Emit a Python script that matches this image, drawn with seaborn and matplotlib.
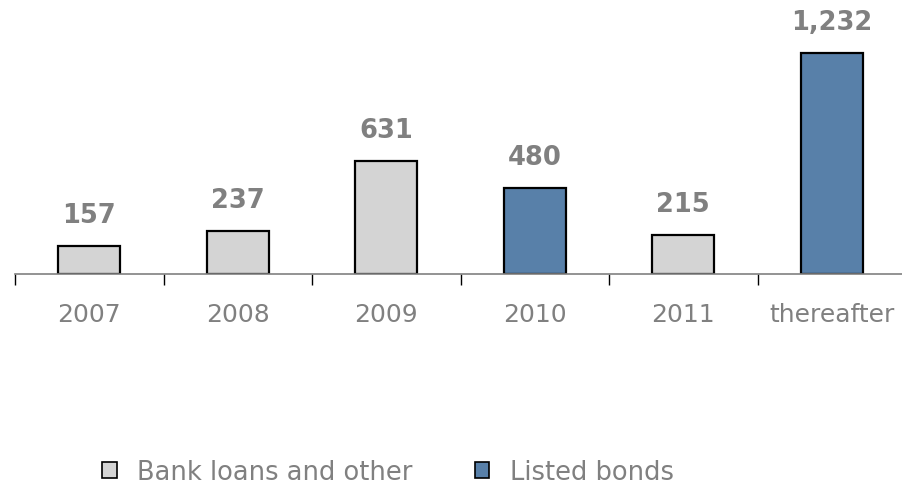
import matplotlib
matplotlib.use('Agg')
import matplotlib.pyplot as plt
from matplotlib.patches import Patch
import seaborn as sns
import pandas as pd

# Chart data
categories = ['2007', '2008', '2009', '2010', '2011', 'thereafter']
values = [157, 237, 631, 480, 215, 1232]
types = ['Bank loans and other', 'Bank loans and other', 'Bank loans and other',
         'Listed bonds', 'Bank loans and other', 'Listed bonds']
series = ['Bank loans and other', 'Listed bonds']
colors = ['#d4d4d4', '#5880a9']

df = pd.DataFrame({'year': categories, 'value': values, 'type': types})

sns.set_style('white')
plt.rcParams['font.family'] = ['DejaVu Sans']

fig = plt.figure(figsize=(9.02, 4.85), dpi=100)
ax = fig.add_axes([15 / 902, (485 - 275) / 485, 891 / 902, 275 / 485])

sns.barplot(data=df, x='year', y='value', hue='type', hue_order=series,
            palette=colors, saturation=1, dodge=False, width=0.42,
            edgecolor='black', linewidth=1.6, legend=False, ax=ax)

for cont in ax.containers:
    ax.bar_label(cont, fmt='{:,.0f}', padding=13, fontsize=18.5,
                 fontweight='bold', color='#808080')

ax.set_xlim(-0.5, 5.5)
ax.set_ylim(0, 1532)
ax.set_xlabel('')
ax.set_ylabel('')
ax.set_yticks([])
for s in ['top', 'right', 'left']:
    ax.spines[s].set_visible(False)
ax.spines['bottom'].set_color('#808080')
ax.spines['bottom'].set_linewidth(1.2)

ax.set_xticks(range(len(categories)))
ax.set_xticklabels(categories)
ax.set_xticks([i - 0.5 for i in range(len(categories) + 1)], minor=True)
ax.tick_params(axis='x', which='major', length=0, pad=20, labelsize=18,
               labelcolor='#808080')
ax.tick_params(axis='x', which='minor', length=8, width=1, color='black',
               direction='out', bottom=True)

handles = [Patch(facecolor=c, edgecolor='black', linewidth=1.2) for c in colors]
fig.legend(handles, series, loc='center', bbox_to_anchor=(388 / 902, 12 / 485),
           ncol=2, frameon=False, fontsize=18.5, labelcolor='#808080',
           handlelength=0.58, handleheight=0.58, handletextpad=0.78,
           columnspacing=2.4, borderpad=0, borderaxespad=0)

fig.savefig('out.png', dpi=100)
